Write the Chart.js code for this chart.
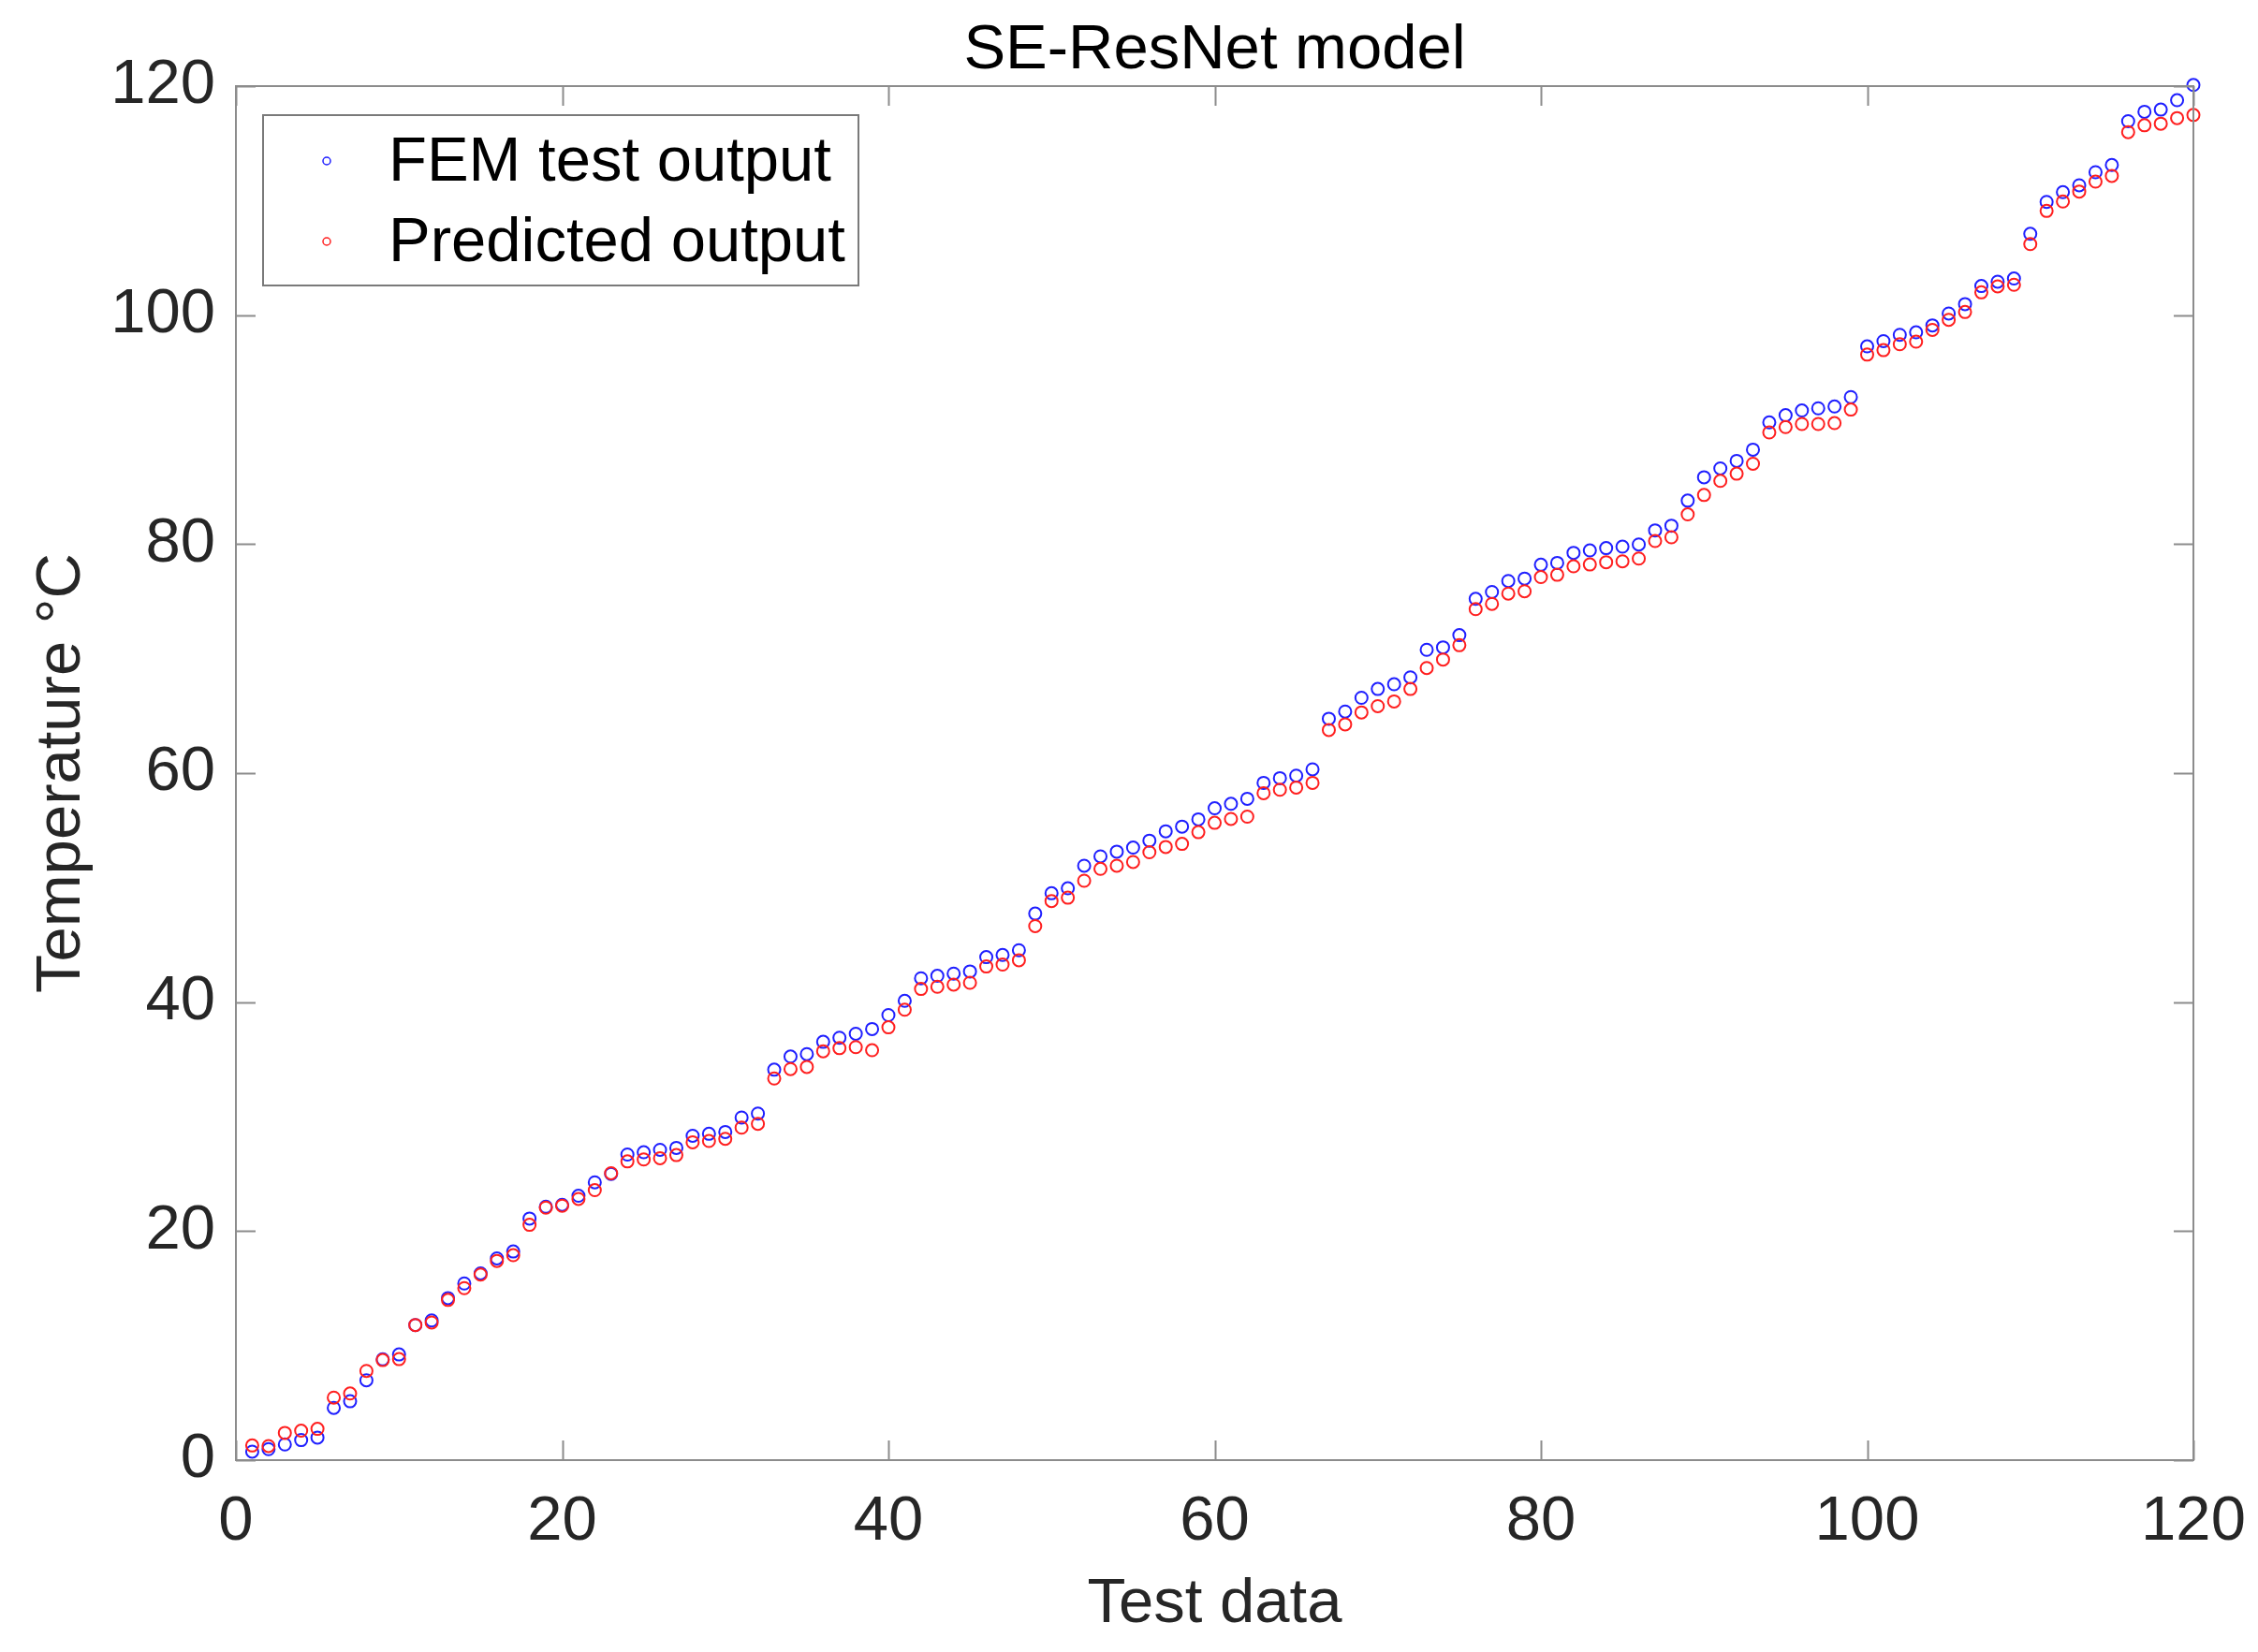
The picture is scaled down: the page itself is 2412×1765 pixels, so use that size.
<!DOCTYPE html>
<html lang="en">
<head>
<meta charset="UTF-8">
<title>SE-ResNet model</title>
<style>
    body { margin: 0; background: #fff; }
    #wrap { width: 2412px; height: 1765px; }
</style>
</head>
<body>
<div id="wrap"><canvas id="chart" width="2412" height="1765"></canvas></div>

<script src="https://cdn.jsdelivr.net/npm/chart.js"></script>
<script>
// test sample number (x axis)
var testIndex = [1, 2, 3, 4, 5, 6, 7, 8, 9, 10, 11, 12, 13, 14, 15, 16, 17, 18, 19, 20,
    21, 22, 23, 24, 25, 26, 27, 28, 29, 30, 31, 32, 33, 34, 35, 36, 37, 38, 39, 40,
    41, 42, 43, 44, 45, 46, 47, 48, 49, 50, 51, 52, 53, 54, 55, 56, 57, 58, 59, 60,
    61, 62, 63, 64, 65, 66, 67, 68, 69, 70, 71, 72, 73, 74, 75, 76, 77, 78, 79, 80,
    81, 82, 83, 84, 85, 86, 87, 88, 89, 90, 91, 92, 93, 94, 95, 96, 97, 98, 99, 100,
    101, 102, 103, 104, 105, 106, 107, 108, 109, 110, 111, 112, 113, 114, 115, 116, 117, 118, 119, 120];

// FEM test output (blue)
var femOutput = [0.74, 0.96, 1.37, 1.75, 1.97, 4.56, 5.14, 6.97, 8.8, 9.23,
    11.8, 12.2, 14.15, 15.43, 16.31, 17.62, 18.22, 21.1, 22.13, 22.3,
    23.09, 24.26, 25.0, 26.69, 26.89, 27.1, 27.27, 28.33, 28.5, 28.66,
    29.92, 30.27, 34.1, 35.25, 35.46, 36.53, 36.89, 37.24, 37.65, 38.87,
    40.11, 42.08, 42.3, 42.49, 42.68, 43.93, 44.12, 44.53, 47.73, 49.51,
    49.94, 51.91, 52.73, 53.14, 53.5, 54.1, 54.92, 55.33, 55.96, 56.93,
    57.32, 57.76, 59.15, 59.56, 59.78, 60.33, 64.75, 65.38, 66.58, 67.35,
    67.76, 68.36, 70.77, 70.98, 72.05, 75.22, 75.82, 76.78, 76.99, 78.2,
    78.36, 79.24, 79.45, 79.65, 79.78, 79.97, 81.2, 81.61, 83.8, 85.84,
    86.61, 87.27, 88.25, 90.63, 91.26, 91.67, 91.86, 92.02, 92.84, 97.27,
    97.73, 98.28, 98.5, 99.1, 100.14, 100.96, 102.54, 102.92, 103.2, 107.1,
    109.89, 110.74, 111.34, 112.48, 113.11, 116.94, 117.76, 117.95, 118.77, 120.1];

// Predicted output (red)
var predOutput = [1.28, 1.23, 2.38, 2.57, 2.73, 5.46, 5.82, 7.79, 8.74, 8.82,
    11.8, 12.02, 13.99, 15.02, 16.2, 17.4, 17.9, 20.55, 22.05, 22.22,
    22.81, 23.58, 25.06, 26.09, 26.26, 26.37, 26.64, 27.76, 27.87, 28.06,
    29.04, 29.37, 33.33, 34.15, 34.34, 35.71, 35.98, 36.07, 35.8, 37.8,
    39.34, 41.15, 41.34, 41.53, 41.69, 43.11, 43.28, 43.66, 46.64, 48.83,
    49.12, 50.6, 51.64, 51.91, 52.24, 53.09, 53.55, 53.82, 54.84, 55.66,
    56.0, 56.2, 58.25, 58.55, 58.74, 59.15, 63.77, 64.26, 65.3, 65.85,
    66.26, 67.35, 69.18, 69.92, 71.17, 74.32, 74.78, 75.68, 75.88, 77.12,
    77.32, 78.06, 78.22, 78.42, 78.5, 78.74, 80.27, 80.6, 82.6, 84.29,
    85.52, 86.15, 87.02, 89.75, 90.22, 90.49, 90.49, 90.57, 91.75, 96.55,
    96.94, 97.46, 97.68, 98.71, 99.59, 100.27, 101.99, 102.51, 102.65, 106.2,
    109.1, 109.92, 110.79, 111.66, 112.16, 115.98, 116.58, 116.72, 117.21, 117.48];

var xTicks = [0, 20, 40, 60, 80, 100, 120];
var yTicks = [0, 20, 40, 60, 80, 100, 120];
var chartTitle = 'SE-ResNet model';

var FONT = "'Liberation Sans', Arial, Helvetica, sans-serif";
var AXIS_GRAY = '#8c8c8c';

// matlab style box with inward ticks on all four sides
var boxPlugin = {
    id: 'matlabBox',
    afterDatasetsDraw: function(chart) {
        var ctx = chart.ctx;
        var a = chart.chartArea;
        var xs = chart.scales.x, ys = chart.scales.y;
        var len = 21;
        ctx.save();
        ctx.strokeStyle = AXIS_GRAY;
        ctx.lineWidth = 2;
        ctx.beginPath();
        xTicks.forEach(function(v) {
            var px = Math.round(xs.getPixelForValue(v)) + 0.5;
            ctx.moveTo(px, a.bottom); ctx.lineTo(px, a.bottom - len);
            ctx.moveTo(px, a.top); ctx.lineTo(px, a.top + len);
        });
        yTicks.forEach(function(v) {
            var py = Math.round(ys.getPixelForValue(v)) + 0.5;
            ctx.moveTo(a.left, py); ctx.lineTo(a.left + len, py);
            ctx.moveTo(a.right, py); ctx.lineTo(a.right - len, py);
        });
        ctx.stroke();
        ctx.strokeRect(a.left, a.top, a.right - a.left, a.bottom - a.top);

        // title centred over the axes, like matlab
        ctx.fillStyle = '#000';
        ctx.font = '67px ' + FONT;
        ctx.textAlign = 'center';
        ctx.textBaseline = 'middle';
        ctx.fillText(chartTitle, (a.left + a.right) / 2, a.top - 37);
        ctx.restore();
    }
};

// legend box in the upper left corner
var legendPlugin = {
    id: 'boxLegend',
    afterDraw: function(chart) {
        var ctx = chart.ctx;
        var a = chart.chartArea;
        var bx = a.left + 29, by = a.top + 31, bw = 636, bh = 182;
        ctx.save();
        ctx.fillStyle = '#fff';
        ctx.fillRect(bx, by, bw, bh);
        ctx.strokeStyle = '#7a7a7a';
        ctx.lineWidth = 2;
        ctx.strokeRect(bx, by, bw, bh);
        var rows = [49, 135];
        chart.data.datasets.slice().sort(function(p, q) { return p.legendRank - q.legendRank; })
            .forEach(function(ds, i) {
                var cy = by + rows[i];
                ctx.beginPath();
                ctx.strokeStyle = ds.borderColor;
                ctx.lineWidth = 1.5;
                ctx.arc(bx + 68, cy, 4, 0, Math.PI * 2);
                ctx.stroke();
                ctx.fillStyle = '#000';
                ctx.font = '67px ' + FONT;
                ctx.textBaseline = 'middle';
                ctx.textAlign = 'left';
                ctx.fillText(ds.label, bx + 134, cy + 3);
            });
        ctx.restore();
    }
};

new Chart(document.getElementById('chart'), {
    type: 'line',
    data: {
        labels: testIndex,
        datasets: [{
            label: 'FEM test output',
            data: femOutput,
            legendRank: 0,
            order: 2,
            showLine: false,
            borderColor: '#1f1fff',
            backgroundColor: 'rgba(0,0,0,0)',
            pointStyle: 'circle',
            pointRadius: 6.5,
            pointBorderWidth: 2,
            clip: false
        }, {
            label: 'Predicted output',
            data: predOutput,
            legendRank: 1,
            order: 1,
            showLine: false,
            borderColor: '#ff1f1f',
            backgroundColor: 'rgba(0,0,0,0)',
            pointStyle: 'circle',
            pointRadius: 6.5,
            pointBorderWidth: 2,
            clip: false
        }]
    },
    options: {
        responsive: false,
        animation: false,
        devicePixelRatio: 1,
        layout: { padding: { left: 0, right: 69, top: 92, bottom: 0 } },
        plugins: {
            legend: { display: false },
            tooltip: { enabled: false },
            title: { display: false }
        },
        scales: {
            x: {
                type: 'linear',
                min: 0,
                max: 120,
                grid: { display: false, drawTicks: false },
                border: { display: false },
                afterBuildTicks: function(scale) {
                    scale.ticks = xTicks.map(function(v) { return { value: v }; });
                },
                ticks: {
                    color: '#262626',
                    padding: 26,
                    maxRotation: 0,
                    font: { family: FONT, size: 67, lineHeight: 1.2 }
                },
                title: {
                    display: true,
                    text: 'Test data',
                    color: '#262626',
                    font: { family: FONT, size: 67, lineHeight: 1.2 },
                    padding: { top: 0, bottom: 10 }
                },
                afterFit: function(scale) {
                    scale.height = 205;
                    scale.paddingLeft = 0;
                    scale.paddingRight = 0;
                }
            },
            y: {
                type: 'linear',
                min: 0,
                max: 120,
                grid: { display: false, drawTicks: false },
                border: { display: false },
                afterBuildTicks: function(scale) {
                    scale.ticks = yTicks.map(function(v) { return { value: v }; });
                },
                ticks: {
                    color: '#262626',
                    padding: 22,
                    font: { family: FONT, size: 67, lineHeight: 1.2 }
                },
                title: {
                    display: true,
                    text: 'Temperature \u00B0C',
                    color: '#262626',
                    font: { family: FONT, size: 67, lineHeight: 1.2 },
                    padding: { top: 26, bottom: 0 }
                },
                afterFit: function(scale) {
                    scale.width = 252;
                    scale.paddingTop = 0;
                    scale.paddingBottom = 0;
                }
            }
        }
    },
    plugins: [boxPlugin, legendPlugin]
});
</script>
</body>
</html>
